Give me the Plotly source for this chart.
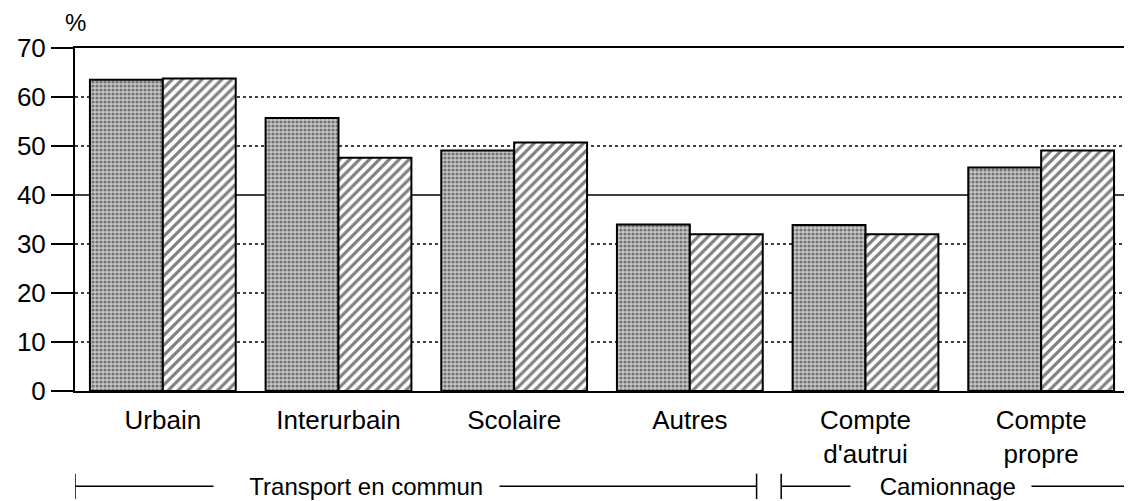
import plotly.graph_objects as go

categories = ["Urbain", "Interurbain", "Scolaire", "Autres", "Compte<br>d'autrui", "Compte<br>propre"]
serie_grise = [63.5, 55.7, 49.1, 34.0, 33.9, 45.6]
serie_hachuree = [63.8, 47.6, 50.7, 32.0, 32.0, 49.1]
y_ticks = [0, 10, 20, 30, 40, 50, 60, 70]
grid_dotted = [10, 20, 30, 50, 60]
grid_solid = [40]
# (label, bracket start, bracket end, label box centre, left pad, right pad) in category units / nbsp counts
groups = [("Transport en commun", -0.5, 3.38, 1.10, 5, 2), ("Camionnage", 3.52, 5.5, 4.43, 4, 2)]

FONT = "Liberation Sans, Arial, Helvetica, sans-serif"
NB = "\u00a0"

fig = go.Figure()
fig.add_trace(go.Bar(
    x=list(range(len(categories))), y=serie_grise,
    marker=dict(color="#c0c0c0", line=dict(color="black", width=2),
                pattern=dict(shape=".", fgcolor="#202020", bgcolor="#c8c8c8", size=4, solidity=0.5)),
    showlegend=False,
))
fig.add_trace(go.Bar(
    x=list(range(len(categories))), y=serie_hachuree,
    marker=dict(color="white", line=dict(color="black", width=2),
                pattern=dict(shape="/", fgcolor="black", bgcolor="white", size=7, solidity=0.45)),
    showlegend=False,
))

shapes = []
for g in grid_dotted:
    shapes.append(dict(type="line", xref="paper", yref="y", x0=0, x1=1, y0=g, y1=g,
                       line=dict(color="black", width=1.5, dash="dot"), layer="below"))
for g in grid_solid:
    shapes.append(dict(type="line", xref="paper", yref="y", x0=0, x1=1, y0=g, y1=g,
                       line=dict(color="black", width=1.5), layer="below"))
# right partial frame
shapes.append(dict(type="line", xref="paper", yref="y", x0=1, x1=1, y0=0, y1=40,
                   line=dict(color="#888", width=1), layer="below"))

yb = -0.278
annotations = [dict(x=0, y=1.075, xref="paper", yref="paper", text="%", showarrow=False,
                    xanchor="center", yanchor="middle", font=dict(size=24, family=FONT, color="black"))]
for label, a, b, mid, lp, rp in groups:
    shapes.append(dict(type="line", xref="x", yref="paper", x0=a, x1=b, y0=yb, y1=yb,
                       line=dict(color="black", width=1.5)))
    for xv in (a, b):
        shapes.append(dict(type="line", xref="x", yref="paper", x0=xv, x1=xv, y0=yb - 0.037, y1=yb + 0.037,
                           line=dict(color="black", width=1.5)))
    annotations.append(dict(x=mid, y=yb, xref="x", yref="paper", text=NB * lp + label + NB * rp,
                            showarrow=False, xanchor="center", yanchor="middle", bgcolor="white",
                            borderpad=2, font=dict(size=24, family=FONT, color="black")))

# page has an 8px body margin: figure is shrunk by 8px so it fits 1132x501 exactly
fig.update_layout(
    width=1124, height=493,
    margin=dict(l=67, r=3, t=40, b=110),
    paper_bgcolor="white", plot_bgcolor="white",
    barmode="group", bargap=0.17, bargroupgap=0,
    font=dict(family=FONT, size=26, color="black"),
    shapes=shapes, annotations=annotations,
    xaxis=dict(tickmode="array", tickvals=list(range(len(categories))), ticktext=categories,
               range=[-0.5, len(categories) - 0.5], showline=True, linecolor="black", linewidth=2,
               mirror=True, ticks="", showgrid=False, zeroline=False, ticklabelstandoff=5,
               tickfont=dict(size=26, family=FONT, color="black")),
    yaxis=dict(range=[0, 70], tickvals=y_ticks, showline=True, linecolor="black", linewidth=2,
               ticks="outside", ticklen=22, tickwidth=2, tickcolor="black", showgrid=False,
               zeroline=False, tickfont=dict(size=26, family=FONT, color="black")),
)

fig.write_html("out.html")
